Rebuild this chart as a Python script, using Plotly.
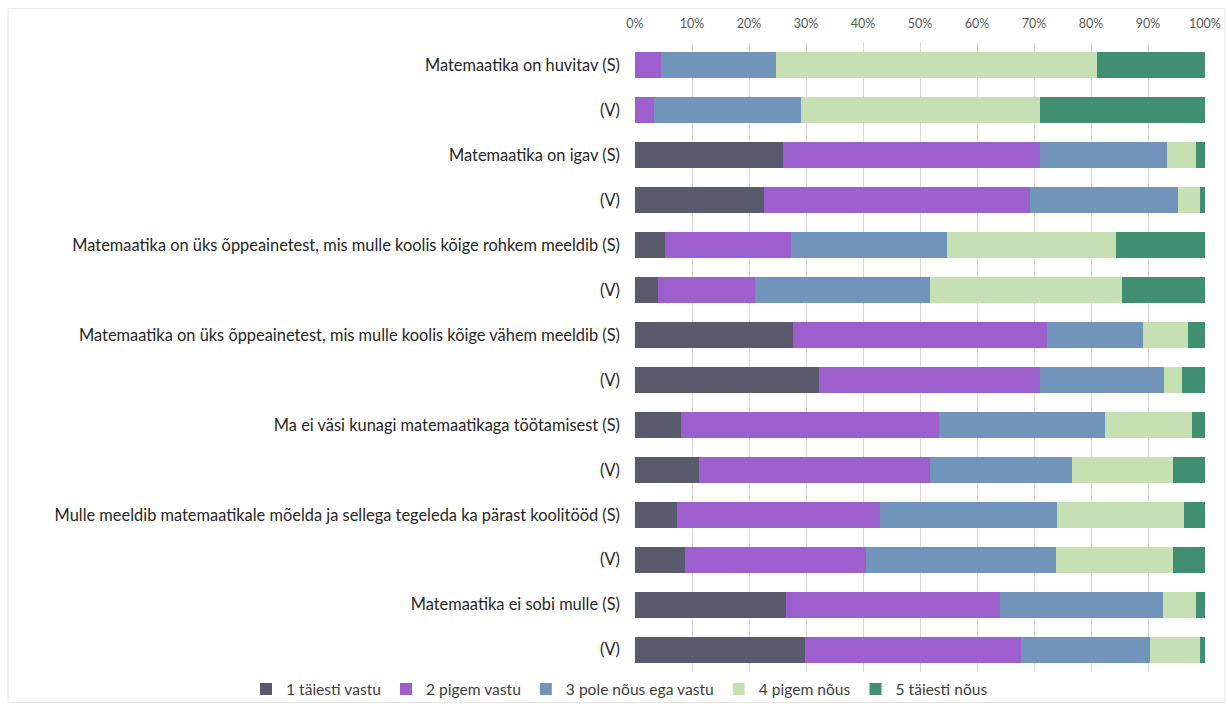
import plotly.graph_objects as go

labels = [
    "Matemaatika on huvitav (S)", "(V)",
    "Matemaatika on igav (S)", "(V)",
    "Matemaatika on üks õppeainetest, mis mulle koolis kõige rohkem meeldib (S)", "(V)",
    "Matemaatika on üks õppeainetest, mis mulle koolis kõige vähem meeldib (S)", "(V)",
    "Ma ei väsi kunagi matemaatikaga töötamisest (S)", "(V)",
    "Mulle meeldib matemaatikale mõelda ja sellega tegeleda ka pärast koolitööd (S)", "(V)",
    "Matemaatika ei sobi mulle (S)", "(V)",
]

series_names = ["1 täiesti vastu", "2 pigem vastu", "3 pole nõus ega vastu", "4 pigem nõus", "5 täiesti nõus"]

s1 = [0.0, 0.0, 26.0, 22.6, 5.2, 4.0, 27.8, 32.3, 8.1, 11.3, 7.4, 8.7, 26.5, 29.9]
s2 = [4.5, 3.3, 45.1, 46.7, 22.2, 17.0, 44.4, 38.7, 45.3, 40.4, 35.6, 31.8, 37.5, 37.8]
s3 = [20.3, 25.8, 22.2, 25.9, 27.4, 30.7, 16.9, 21.8, 29.0, 24.9, 31.1, 33.3, 28.6, 22.6]
s4 = [56.3, 41.9, 5.2, 3.9, 29.6, 33.8, 8.0, 3.2, 15.4, 17.8, 22.2, 20.6, 5.9, 8.8]
s5 = [18.9, 29.0, 1.5, 0.9, 15.6, 14.5, 2.9, 4.0, 2.2, 5.6, 3.7, 5.6, 1.5, 0.9]

colors = ["#575B6B", "#9D5FCD", "#7195BA", "#C6E0B4", "#418F71"]

positions = list(range(len(labels)))

fig = go.Figure()
for name, vals, col in zip(series_names, [s1, s2, s3, s4, s5], colors):
    fig.add_trace(go.Bar(
        y=positions, x=vals, name=name, orientation="h",
        marker=dict(color=col, line=dict(width=0)),
    ))

W, H = 1228, 704
L, R, T, B = 635, 23, 42.5, 31.5
pw, ph = W - L - R, H - T - B

def px_x(x):
    return (x - L) / pw

def px_y(y):
    return (H - B - y) / ph

fig.update_layout(
    width=W, height=H,
    barmode="stack", bargap=0.42,
    margin=dict(l=L, r=R, t=T, b=B, pad=0, autoexpand=False),
    paper_bgcolor="white", plot_bgcolor="white",
    font=dict(family="Lato, Open Sans, sans-serif", color="#262626"),
    xaxis=dict(
        range=[0, 100], dtick=10, ticksuffix="%", side="top",
        showgrid=True, gridcolor="#D9D9D9", gridwidth=1,
        zeroline=False, showline=False, ticks="",
        tickfont=dict(size=12.5, color="#595959"), ticklabelstandoff=12,
    ),
    yaxis=dict(
        tickvals=positions, ticktext=labels, autorange="reversed",
        showgrid=False, zeroline=False, showline=False, ticks="",
        tickfont=dict(size=16.4, color="#262626"), ticklabelstandoff=14,
    ),
    legend=dict(
        orientation="h",
        x=px_x(246), xanchor="left",
        y=px_y(690), yanchor="middle",
        font=dict(size=15.6, color="#404040"),
        itemwidth=30, traceorder="normal",
        bgcolor="rgba(0,0,0,0)",
    ),
    showlegend=True,
    shapes=[dict(
        type="rect", xref="paper", yref="paper",
        x0=px_x(8), x1=px_x(1225), y0=px_y(703), y1=px_y(8),
        line=dict(color="#E6E6E6", width=1), fillcolor="rgba(0,0,0,0)",
        layer="below",
    )],
)

fig.write_html("out.html")
